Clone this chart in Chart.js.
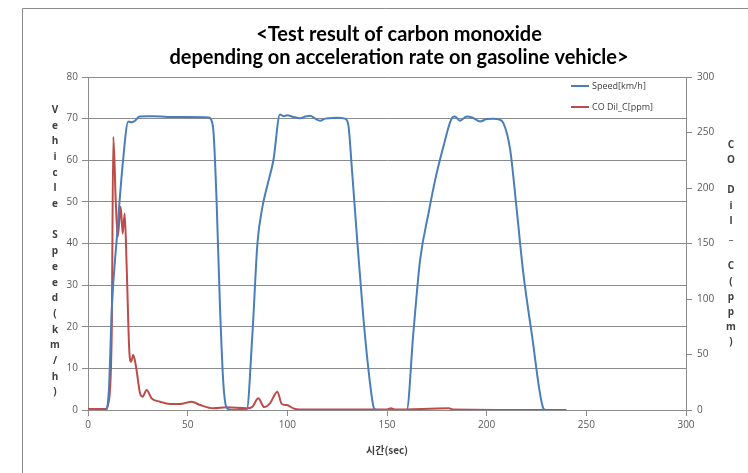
<!DOCTYPE html>
<html>
<head>
<meta charset="utf-8">
<script src="https://cdn.jsdelivr.net/npm/chart.js@4.4.0/dist/chart.umd.min.js"></script>
<style>
  html, body { margin: 0; padding: 0; background: #fff; }
  #wrap { width: 748px; height: 473px; position: relative; }
</style>
</head>
<body>
<div id="wrap"><canvas id="chart"></canvas></div>
<script>
// Speed trace (sec, km/h)
const speedTime = [0, 9, 10.5, 12, 14.4, 17.4, 20.2, 21.8, 23.6, 25.8, 30, 33, 40, 50, 60.4, 62, 63, 64.5, 66.2, 67.9, 69.6, 72,
  79.6, 82.5, 85, 87.5, 90, 93, 96.3, 98, 100, 103, 106.3, 109, 111.4, 114, 116.4, 119, 121.4, 125, 128.9, 130.6, 132.3, 134.8, 138.1, 141.5, 143.5, 145,
  159.9, 163.2, 166.6, 170.8, 174.5, 178.3, 182.5, 184, 186.6, 190, 193, 196.7, 200, 203.4, 206, 208.4, 211.8, 215.1, 218.4, 222.6, 228.4, 229.5];
const speedValues = [0, 0, 5, 25, 41, 59, 69.3, 69.1, 69.5, 70.5, 70.6, 70.6, 70.4, 70.4, 70.3, 69.5, 66.5, 50.4, 25, 6.4, 0.5, 0,
  0, 18.4, 40, 48.8, 54, 60, 71, 70.6, 70.8, 70.4, 70.1, 70.5, 70.7, 70, 69.5, 70, 70.1, 70.2, 70, 68.5, 58.5, 42.4, 22.4, 6.4, 0.4, 0,
  0, 18.4, 36, 47.2, 56, 63.3, 70.1, 70.5, 69.5, 70.5, 70.2, 69.3, 69.9, 70, 69.8, 68.9, 62.5, 48, 32.8, 18.4, 0.4, 0];

// CO trace (sec, ppm)
const coTime = [0, 9, 10.2, 11.9, 12.7, 13.9, 14.9, 16.4, 17.4, 18.4, 19.4, 20.7, 21.6, 22.7, 24.1, 26.1, 27.4, 29.4, 31.9, 36.1, 41.1, 46.1, 52, 56.2, 62.9, 69.6,
  79.6, 82.5, 85.4, 88.4, 91.3, 95, 97.2, 99.7, 103, 106.3, 150, 152, 154, 181, 183, 240];
const coValues = [1, 1, 6, 69, 246, 189, 156, 183, 159, 177, 129, 54, 43.5, 49.5, 39, 15, 12, 18, 10.5, 7.5, 5.4, 5.4, 7.5, 4.5, 1.5, 2.4,
  1.5, 3, 10.5, 2.6, 6, 16.5, 5.4, 4.5, 1.5, 0.5, 0.5, 1.5, 0.5, 1.5, 0.5, 0];

const seriesNames = ['Speed[km/h]', 'CO Dil_C[ppm]'];
const titleLines = ['<Test result of carbon monoxide', 'depending on acceleration rate on gasoline vehicle>'];
const xTitle = '시간(sec)';
const leftTitle = 'Vehicle Speed(km/h)';
const rightTitle = 'CO Dil_ C(ppm)';

const gridColor = '#8c8c8c';
const tickColor = '#595959';

const extras = {
  id: 'extras',
  afterDraw(chart) {
    const ctx = chart.ctx;
    ctx.save();
    // outer frame (left and top edges)
    ctx.strokeStyle = '#8c8c8c';
    ctx.lineWidth = 1;
    ctx.beginPath();
    ctx.moveTo(22.5, 473);
    ctx.lineTo(22.5, 8.5);
    ctx.lineTo(748, 8.5);
    ctx.stroke();

    // stacked axis titles
    ctx.fillStyle = '#404040';
    ctx.font = 'bold 10px "Open Sans", sans-serif';
    ctx.textAlign = 'center';
    ctx.textBaseline = 'middle';
    [...leftTitle].forEach((ch, i) => {
      ctx.fillText(ch, 55, 110 + i * 15.7);
    });
    [...rightTitle].forEach((ch, i) => {
      ctx.fillText(ch, 731, 145 + i * 15.2);
    });

    // legend inside plot
    ctx.font = '9px "Open Sans", sans-serif';
    ctx.textAlign = 'left';
    chart.data.datasets.forEach((ds, i) => {
      const y = 86 + i * 21;
      ctx.strokeStyle = ds.borderColor;
      ctx.lineWidth = 2;
      ctx.beginPath();
      ctx.moveTo(571, y);
      ctx.lineTo(589, y);
      ctx.stroke();
      ctx.fillStyle = '#404040';
      ctx.fillText(ds.label, 592, y);
    });
    ctx.restore();
  }
};

new Chart(document.getElementById('chart'), {
  type: 'line',
  data: {
    datasets: [
      {
        label: seriesNames[0],
        data: speedTime.map((t, i) => ({ x: t, y: speedValues[i] })),
        borderColor: '#4a7ebb',
        borderWidth: 2,
        pointRadius: 0,
        cubicInterpolationMode: 'monotone',
        yAxisID: 'y'
      },
      {
        label: seriesNames[1],
        data: coTime.map((t, i) => ({ x: t, y: coValues[i] })),
        borderColor: '#be4b48',
        borderWidth: 2,
        pointRadius: 0,
        cubicInterpolationMode: 'monotone',
        yAxisID: 'y2'
      }
    ]
  },
  options: {
    responsive: true,
    maintainAspectRatio: false,
    animation: false,
    layout: { padding: { left: 50 } },
    plugins: {
      legend: { display: false },
      tooltip: { enabled: false },
      title: {
        display: true,
        text: titleLines,
        color: '#000',
        font: { family: 'Lato', size: 20, weight: 'bold', lineHeight: 1.15 },
        padding: { top: 23, bottom: 8 }
      }
    },
    scales: {
      x: {
        type: 'linear',
        min: 0,
        max: 300,
        afterFit(scale) { scale.height = 63; },
        ticks: { stepSize: 50, color: tickColor, font: { family: 'Open Sans', size: 10 }, padding: 3, maxRotation: 0 },
        grid: { drawOnChartArea: false, color: gridColor, tickLength: 6 },
        border: { color: gridColor },
        title: {
          display: true,
          text: xTitle,
          color: '#404040',
          font: { family: 'Noto Sans CJK KR', size: 10, weight: 'bold' },
          padding: { top: 7, bottom: 17 }
        }
      },
      y: {
        position: 'left',
        min: 0,
        max: 80,
        afterFit(scale) { scale.width = 38; },
        ticks: { stepSize: 10, color: tickColor, font: { family: 'Open Sans', size: 10 }, padding: 4 },
        grid: { color: gridColor, tickLength: 6 },
        border: { color: gridColor }
      },
      y2: {
        position: 'right',
        min: 0,
        max: 300,
        afterFit(scale) { scale.width = 62; },
        ticks: { stepSize: 50, color: tickColor, font: { family: 'Open Sans', size: 10 }, padding: 5 },
        grid: { drawOnChartArea: false, color: gridColor, tickLength: 6 },
        border: { color: gridColor }
      }
    }
  },
  plugins: [extras]
});
</script>
</body>
</html>
